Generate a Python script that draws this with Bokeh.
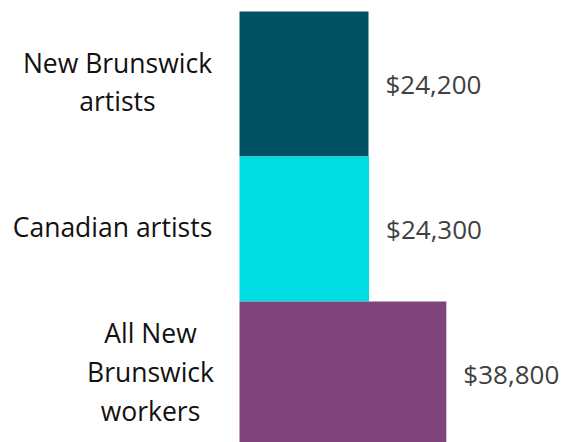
from bokeh.plotting import figure
from bokeh.models import ColumnDataSource, Range1d
from bokeh.core.properties import value
from bokeh.embed import file_html
from bokeh.resources import INLINE

categories = ["New Brunswick\nartists", "Canadian artists", "All New\nBrunswick\nworkers"]
incomes = [24200, 24300, 38800]
value_labels = ["$24,200", "$24,300", "$38,800"]
colors = ["#025163", "#00DDE3", "#81457D"]
positions = [2, 1, 0]
# horizontal pixel offset of each label block's centre from the bar base
label_offsets = [-122, -127, -89]

src = ColumnDataSource(dict(
    cat=categories, inc=incomes, lab=value_labels, color=colors, y=positions,
    zero=[0] * len(incomes), xoff=label_offsets,
))

W, H = 567, 442
p = figure(width=W, height=H, output_backend="svg", toolbar_location=None,
           x_range=Range1d(-44836, 61533), y_range=Range1d(-0.472, 2.576),
           min_border=0, outline_line_color=None)
p.axis.visible = False
p.grid.visible = False
p.background_fill_color = "white"
p.border_fill_color = "white"

p.hbar(y="y", left="zero", right="inc", height=1.0, fill_color="color",
       line_color=None, source=src)

p.text(x="zero", y="y", text="cat", source=src, x_offset="xoff", y_offset=-2,
       text_align="center", text_baseline="middle",
       text_font=value("Open Sans"), text_font_size="26.5px",
       text_color="#111111", text_line_height=1.08)

p.text(x="inc", y="y", text="lab", source=src, x_offset=17,
       text_align="left", text_baseline="middle",
       text_font=value("Open Sans"), text_font_size="26px",
       text_color="#404040")

open("out.html", "w").write(file_html(p, INLINE))
